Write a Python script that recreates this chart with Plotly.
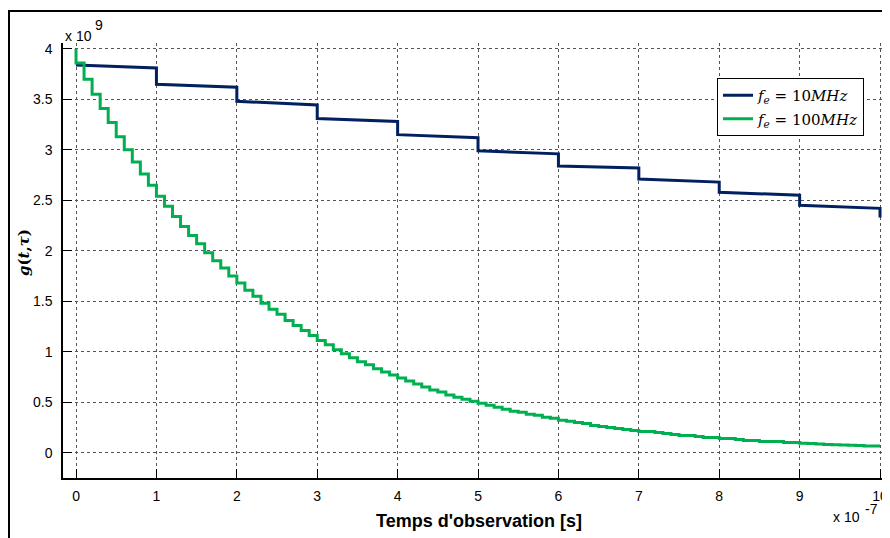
import plotly.graph_objects as go

# ---- data (time in units of 1e-7 s, g in units of 1e9) ----
x_ticks = [0, 1, 2, 3, 4, 5, 6, 7, 8, 9, 10]
y_ticks = [0, 0.5, 1, 1.5, 2, 2.5, 3, 3.5, 4]

# fe = 10 MHz : one step per 1e-7 s, slight decay inside each step
blue_t0 = [0, 1, 2, 3, 4, 5, 6, 7, 8, 9]
blue_start = [3.84, 3.65, 3.48, 3.31, 3.15, 2.99, 2.84, 2.71, 2.58, 2.45]
blue_end = [3.81, 3.62, 3.445, 3.28, 3.12, 2.96, 2.82, 2.68, 2.55, 2.42]
blue_t_final = 10
blue_final = 2.33

# fe = 100 MHz : one step per 1e-8 s
green_t_init = 0
green_init = 4.0
green_step = 0.1
green_vals = [
    3.86, 3.70, 3.55, 3.41, 3.27, 3.13, 3.00, 2.88, 2.76, 2.65,
    2.54, 2.44, 2.34, 2.24, 2.15, 2.07, 1.98, 1.90, 1.83, 1.75,
    1.68, 1.61, 1.55, 1.48, 1.42, 1.37, 1.31, 1.26, 1.21, 1.16,
    1.11, 1.07, 1.02, 0.98, 0.94, 0.90, 0.87, 0.83, 0.80, 0.77,
    0.74, 0.71, 0.68, 0.65, 0.62, 0.60, 0.57, 0.55, 0.53, 0.51,
    0.49, 0.47, 0.45, 0.43, 0.41, 0.40, 0.38, 0.37, 0.35, 0.34,
    0.32, 0.31, 0.30, 0.29, 0.27, 0.26, 0.25, 0.24, 0.23, 0.22,
    0.21, 0.21, 0.20, 0.19, 0.18, 0.17, 0.17, 0.16, 0.15, 0.15,
    0.14, 0.14, 0.13, 0.12, 0.12, 0.11, 0.11, 0.11, 0.10, 0.10,
    0.093, 0.090, 0.086, 0.082, 0.079, 0.076, 0.073, 0.070, 0.067, 0.065,
]
series_names = ["<i>f</i><sub><i>e</i></sub> = 10<i>MHz</i>",
                "<i>f</i><sub><i>e</i></sub> = 100<i>MHz</i>"]

# ---- build traces ----
bx, by = [], []
for t, s, e in zip(blue_t0, blue_start, blue_end):
    bx += [t, t + 1]
    by += [s, e]
bx.append(blue_t_final)
by.append(blue_final)

gx = [green_t_init] + [i * green_step for i in range(len(green_vals))] + [len(green_vals) * green_step]
gy = [green_init] + green_vals + [green_vals[-1]]

fig = go.Figure()
fig.add_trace(go.Scatter(x=bx, y=by, mode="lines", name=series_names[0],
                         line=dict(color="#002060", width=3), legendgroup="a"))
fig.add_trace(go.Scatter(x=gx, y=gy, mode="lines", name=series_names[1],
                         line=dict(color="#00B050", width=3, shape="hv"), legendgroup="b"))

# page has an 8px body margin: work in screen pixels and shift
OFF = 8
W, H = 890, 538
plot_left, plot_top, plot_bottom, plot_right = 63, 43, 478, 890  # screen px
L = plot_left - OFF
T = plot_top - OFF
B = H - (plot_bottom - OFF)
R = W - (plot_right - OFF)
pw, ph = W - L - R, H - T - B


def px(x):
    return (x - plot_left) / pw


def py(y):
    return (plot_bottom - y) / ph


axis_common = dict(
    showgrid=True, gridcolor="#555555", griddash="dot", gridwidth=1,
    zeroline=False, showline=True, linecolor="black", linewidth=1.5,
    ticks="inside", ticklen=9, tickcolor="black", tickwidth=1,
    tickfont=dict(family="Liberation Sans, Arial", size=14, color="black"),
)

sans = dict(family="Liberation Sans, Arial", size=14, color="black")

fig.update_layout(
    width=W, height=H,
    margin=dict(l=L, r=R, t=T, b=B),
    paper_bgcolor="white", plot_bgcolor="white",
    xaxis=dict(range=[-0.162, 10.124], tickmode="array", tickvals=x_ticks,
               ticktext=[str(v) for v in x_ticks], ticklabelstandoff=4, **axis_common),
    yaxis=dict(range=[-0.251, 4.058], tickmode="array", tickvals=y_ticks,
               ticktext=[("%g" % v) for v in y_ticks], ticklabelstandoff=6, **axis_common),
    showlegend=True,
    legend=dict(x=px(717), y=py(78), xanchor="left", yanchor="top",
                bgcolor="white", bordercolor="black", borderwidth=1,
                font=dict(family="DejaVu Serif, Liberation Serif", size=15, color="black"),
                tracegroupgap=1, itemwidth=30),
    shapes=[dict(type="rect", xref="paper", yref="paper",
                 x0=px(9), x1=px(888), y0=py(548), y1=py(11),
                 line=dict(color="black", width=2), fillcolor="rgba(0,0,0,0)",
                 layer="above")],
    annotations=[
        dict(text="x 10", xref="paper", yref="paper", x=px(63), y=py(36),
             xanchor="left", yanchor="middle", showarrow=False, font=sans),
        dict(text="9", xref="paper", yref="paper", x=px(93), y=py(25),
             xanchor="left", yanchor="middle", showarrow=False, font=sans),
        dict(text="x 10", xref="paper", yref="paper", x=px(862), y=py(517),
             xanchor="right", yanchor="middle", showarrow=False, font=sans),
        dict(text="-7", xref="paper", yref="paper", x=px(863), y=py(509),
             xanchor="left", yanchor="middle", showarrow=False, font=sans),
        dict(text="<b>Temps d'observation [s]</b>", xref="paper", yref="paper",
             x=px(479), y=py(521), xanchor="center", yanchor="middle", showarrow=False,
             font=dict(family="Liberation Sans, Arial", size=18, color="black")),
        dict(text="<b><i>g</i>(<i>t</i>,<i>τ</i>)</b>", xref="paper", yref="paper",
             x=px(24), y=py(253), xanchor="center", yanchor="middle", showarrow=False,
             textangle=-90,
             font=dict(family="DejaVu Serif, Liberation Serif", size=15, color="black")),
    ],
)

fig.write_html("out.html")
